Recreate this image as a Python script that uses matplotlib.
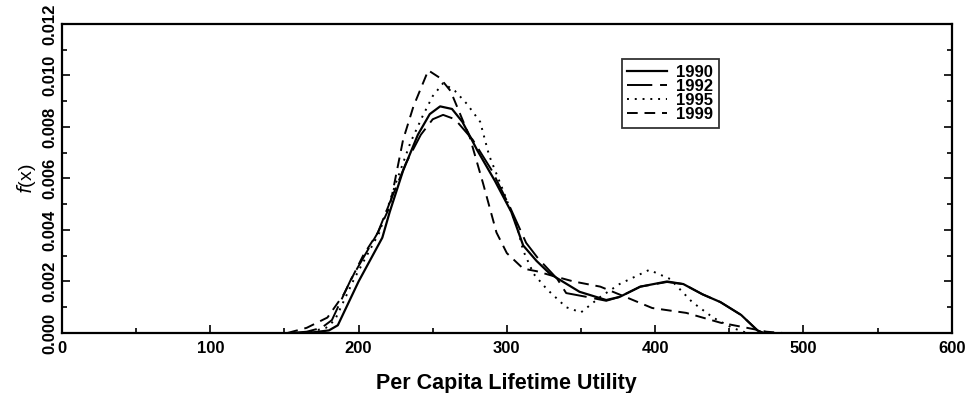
import matplotlib
matplotlib.use("Agg")
import matplotlib.pyplot as plt
from matplotlib.ticker import MultipleLocator, FormatStrFormatter

# Kernel density curves
x_1990 = [158, 170, 180, 186, 200, 216, 221, 230, 240, 248, 255, 263, 270, 280, 292,
          303, 311, 320, 329, 349, 367, 376, 390, 408, 419, 432, 444, 458, 469, 473]
y_1990 = [0, 0.00003, 0.0001, 0.0003, 0.0020, 0.0037, 0.0047, 0.0063, 0.0077, 0.0085,
          0.0088, 0.0087, 0.0082, 0.0071, 0.0059, 0.0047, 0.0034, 0.0028, 0.0023, 0.0016,
          0.00128, 0.0014, 0.0018, 0.0020, 0.0019, 0.0015, 0.0012, 0.0007, 0.0001, 0]

x_1992 = [155, 165, 175, 182, 195, 213, 222, 232, 242, 250, 257, 265, 277, 290, 302,
          313, 321, 334, 340, 354, 367, 376, 390, 408, 419, 432, 444, 458, 469, 473]
y_1992 = [0, 0.00005, 0.0002, 0.0005, 0.0021, 0.0039, 0.0052, 0.0066, 0.0077, 0.0083,
          0.00847, 0.0083, 0.0075, 0.0063, 0.0049, 0.0035, 0.0029, 0.0021, 0.00155, 0.0014,
          0.00125, 0.0014, 0.0018, 0.00198, 0.0019, 0.0015, 0.0012, 0.0007, 0.0001, 0]

x_1995 = [157, 168, 178, 184, 197, 214, 225, 235, 243, 250, 257, 265, 273, 282, 288,
          297, 307, 311, 318, 327, 340, 350, 363, 376, 396, 410, 425, 439, 452, 462]
y_1995 = [0, 0.00005, 0.0002, 0.0005, 0.0021, 0.0039, 0.0058, 0.0074, 0.0084, 0.0092,
          0.0097, 0.0094, 0.0089, 0.0082, 0.0069, 0.0056, 0.0041, 0.0032, 0.0023, 0.0017,
          0.0010, 0.0008, 0.0014, 0.0019, 0.00245, 0.0021, 0.0012, 0.0006, 0.0002, 0]

x_1999 = [152, 165, 179, 190, 203, 213, 221, 230, 237, 247, 255, 262, 275, 284, 293,
          300, 311, 320, 329, 345, 363, 380, 398, 421, 444, 462, 475, 486]
y_1999 = [0, 0.0002, 0.0006, 0.0015, 0.0030, 0.0039, 0.0049, 0.0075, 0.0088, 0.0102,
          0.0099, 0.0094, 0.0076, 0.0058, 0.0039, 0.0031, 0.0025, 0.0024, 0.00225, 0.0020,
          0.0018, 0.0014, 0.00097, 0.00078, 0.0004, 0.0002, 0.00005, 0]

years = ["1990", "1992", "1995", "1999"]


def main() -> None:
	plt.rcParams["font.family"] = ["Liberation Sans", "DejaVu Sans"]

	fig = plt.figure(figsize=(9.66, 3.93), dpi=100)
	ax = fig.add_axes([0.0642, 0.1527, 0.921, 0.7863])

	ax.plot(x_1990, y_1990, color="black", lw=1.6, ls="-", label=years[0])
	ax.plot(x_1992, y_1992, color="black", lw=1.4, ls=(0, (13, 4)), label=years[1])
	ax.plot(x_1995, y_1995, color="black", lw=1.4, ls=(0, (1, 3)), label=years[2])
	ax.plot(x_1999, y_1999, color="black", lw=1.4, ls=(0, (5.5, 3.5)), label=years[3])

	ax.set_xlim(0, 600)
	ax.set_ylim(0, 0.012)
	ax.xaxis.set_major_locator(MultipleLocator(100))
	ax.xaxis.set_minor_locator(MultipleLocator(50))
	ax.yaxis.set_major_locator(MultipleLocator(0.002))
	ax.yaxis.set_minor_locator(MultipleLocator(0.001))
	ax.yaxis.set_major_formatter(FormatStrFormatter("%.3f"))
	ax.tick_params(which="both", direction="in", right=True, top=False, width=1.2)
	ax.tick_params(which="major", length=6, labelsize=12)
	ax.tick_params(which="minor", length=3.5)
	ax.tick_params(axis="x", pad=6)
	for lab in ax.get_xticklabels() + ax.get_yticklabels():
		lab.set_fontweight("bold")
	for lab in ax.get_yticklabels():
		lab.set_rotation(90)
		lab.set_va("center")
	for sp in ax.spines.values():
		sp.set_linewidth(1.6)

	ax.set_xlabel("Per Capita Lifetime Utility", fontsize=15.5, fontweight="bold", labelpad=12)
	ax.set_ylabel(r"$f$(x)", fontsize=14, labelpad=3)

	leg = ax.legend(loc="upper left", bbox_to_anchor=(0.629, 0.887), borderaxespad=0,
	                frameon=True, fancybox=False, edgecolor="black", handlelength=2.4,
	                handletextpad=0.5, labelspacing=-0.05, borderpad=0.35,
	                prop={"weight": "bold", "size": 12})
	leg.get_frame().set_linewidth(1.3)

	fig.savefig("out.png", dpi=100)
	plt.close(fig)


if __name__ == "__main__":
	main()
